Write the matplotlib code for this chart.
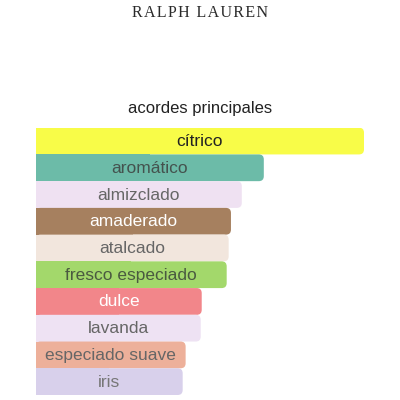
import matplotlib
matplotlib.use("Agg")
import matplotlib.pyplot as plt
from matplotlib.patches import FancyBboxPatch, Rectangle

# acordes principales (relative strength, %)
accords = ["cítrico", "aromático", "almizclado", "amaderado", "atalcado",
           "fresco especiado", "dulce", "lavanda", "especiado suave", "iris"]
values = [100, 69.5, 62.8, 59.5, 58.8, 58.2, 50.6, 50.3, 45.7, 44.8]
colors = ["#F8FC48", "#6CBBA8", "#EFE1F2", "#A6805F", "#F2E6DD",
          "#A3D86B", "#F2868A", "#EEE2F3", "#EDB09A", "#D8D0EB"]
text_colors = ["#222222", "#44524e", "#666666", "#ffffff", "#666666",
               "#4a5a40", "#ffffff", "#666666", "#666666", "#777777"]

fig = plt.figure(figsize=(4, 4), dpi=100)
fig.patch.set_facecolor("white")

# axes placed so bars fill the same pixel area as the reference
left_px, right_px, top_px, bottom_px = 35.5, 364, 127.7, 395
ax = fig.add_axes([left_px / 400, 1 - bottom_px / 400,
                   (right_px - left_px) / 400, (bottom_px - top_px) / 400])
ax.set_xlim(0, 100)
ax.set_ylim(len(accords) - 0.5, -0.5)
ax.axis("off")

px_x = 100 / (right_px - left_px)          # x units per pixel
px_y = len(accords) / (bottom_px - top_px)  # y units per pixel
radius = 5 * px_x
aspect = px_y / px_x

for i, (name, v, c, tc) in enumerate(zip(accords, values, colors, text_colors)):
    y0 = i - 0.5
    box = FancyBboxPatch((0, y0), v, 1.0,
                         boxstyle=f"round,pad=0,rounding_size={radius}",
                         mutation_aspect=aspect, facecolor=c, edgecolor="none")
    ax.add_patch(box)
    # square off the left side
    ax.add_patch(Rectangle((0, y0), v / 2, 1.0, facecolor=c, edgecolor="none"))
    ax.text(v / 2, i + 0.02, name, ha="center", va="center",
            fontsize=12.5, color=tc, family="Liberation Sans")

# brand name, slightly letter-spaced
brand = "\u200a".join("RALPH LAUREN")
fig.text(0.5, 1 - 13 / 400, brand, ha="center", va="center",
         fontsize=11.5, family=["Liberation Serif", "DejaVu Serif"],
         color="#2a2a2a", fontweight="medium")
fig.text(0.5, 1 - 108 / 400, "acordes principales", ha="center", va="center",
         fontsize=12, family="Liberation Sans", color="#222222")

fig.savefig("out.png", dpi=100)
